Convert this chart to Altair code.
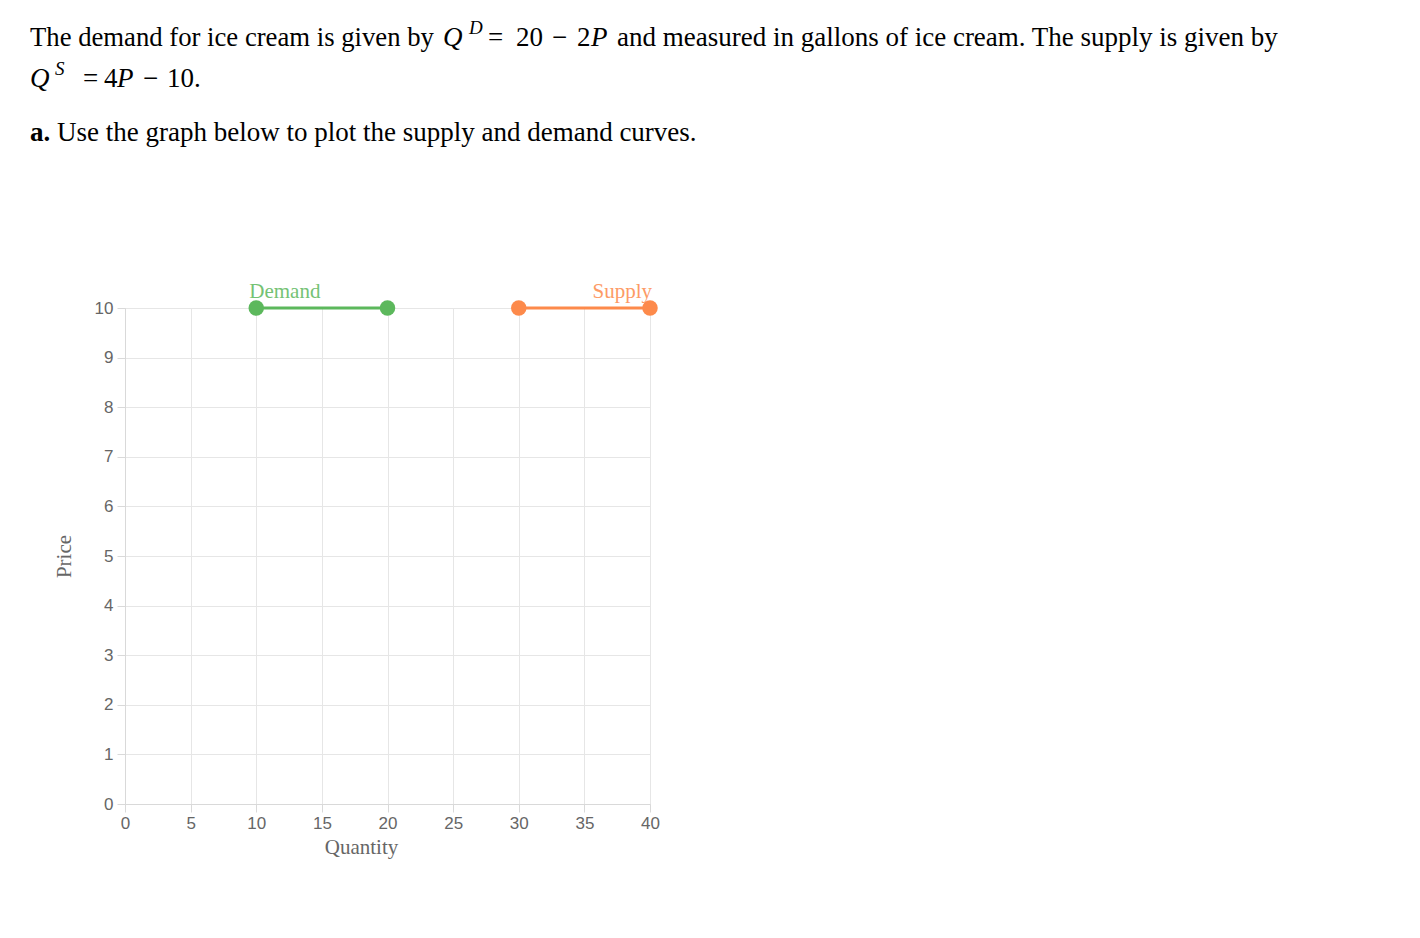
import altair as alt
import pandas as pd

# ---- data ----
series = ["Demand", "Demand", "Supply", "Supply"]
quantity = [10, 20, 30, 40]
price = [10, 10, 10, 10]
label_names = ["Demand", "Supply"]
label_quantity = [10, 40]
label_price = [10, 10]
x_ticks = [0, 5, 10, 15, 20, 25, 30, 35, 40]
y_ticks = [0, 1, 2, 3, 4, 5, 6, 7, 8, 9, 10]

df = pd.DataFrame({"series": series, "Quantity": quantity, "Price": price})
lab = pd.DataFrame({"series": label_names, "Quantity": label_quantity, "Price": label_price})

GREEN = "#5cb85c"
ORANGE = "#fd8a4b"
color_scale = alt.Scale(domain=["Demand", "Supply"], range=[GREEN, ORANGE])

SERIF = "Liberation Serif"
SANS = "Liberation Sans"

ox, oy = 125, 308  # plot origin in page pixels

x_enc = alt.X("Quantity:Q", scale=alt.Scale(domain=[0, 40], nice=False),
              axis=alt.Axis(values=x_ticks, title="Quantity", labelFont=SANS, labelFontSize=17,
                            labelColor="#666", labelFlush=False, titleFont=SERIF, titleFontSize=21,
                            titleFontWeight="normal", titleColor="#666", titlePadding=5,
                            titleX=361 - ox, titleAlign="center",
                            tickSize=8, tickColor="#d9d9d9", domainColor="#d9d9d9",
                            gridColor="#e6e6e6", labelPadding=3))
y_enc = alt.Y("Price:Q", scale=alt.Scale(domain=[0, 10], nice=False),
              axis=alt.Axis(values=y_ticks, title="Price", labelFont=SANS, labelFontSize=17,
                            labelColor="#666", labelFlush=False, titleFont=SERIF, titleFontSize=21,
                            titleFontWeight="normal", titleColor="#666", titlePadding=20,
                            tickSize=8, tickColor="#d9d9d9", domainColor="#d9d9d9",
                            gridColor="#e6e6e6", labelPadding=4))

base = alt.Chart(df)
lines = base.mark_line(strokeWidth=3).encode(
    x=x_enc, y=y_enc, detail="series:N",
    color=alt.Color("series:N", scale=color_scale, legend=None))
points = base.mark_circle(size=240, opacity=1).encode(
    x="Quantity:Q", y="Price:Q",
    color=alt.Color("series:N", scale=color_scale, legend=None))

lab_demand = alt.Chart(lab[lab.series == "Demand"]).mark_text(
    font=SERIF, fontSize=21, align="left", baseline="alphabetic", dx=-7, dy=-10, opacity=0.85
).encode(x="Quantity:Q", y="Price:Q", text="series:N",
         color=alt.Color("series:N", scale=color_scale, legend=None))
lab_supply = alt.Chart(lab[lab.series == "Supply"]).mark_text(
    font=SERIF, fontSize=21, align="right", baseline="alphabetic", dx=2, dy=-10, opacity=0.85
).encode(x="Quantity:Q", y="Price:Q", text="series:N",
         color=alt.Color("series:N", scale=color_scale, legend=None))

one = alt.Data(values=[{}])


def txt(s, x, y, size=27, style="normal", weight="normal"):
    return alt.Chart(one).mark_text(
        font=SERIF, fontSize=size, fontStyle=style, fontWeight=weight,
        align="left", baseline="alphabetic", color="#000"
    ).encode(x=alt.value(x), y=alt.value(y), text=alt.value(s))


L1, L2, L3 = 46 - oy, 87 - oy, 141 - oy
paragraph = [
    txt("The demand for ice cream is given by", 30 - ox, L1, size=26.7),
    txt("Q", 443 - ox, L1, style="italic"),
    txt("D", 469 - ox, L1 - 12, size=19, style="italic"),
    txt("=", 488 - ox, L1),
    txt("20", 516 - ox, L1),
    txt("\u2212", 552 - ox, L1),
    txt("2", 577 - ox, L1),
    txt("P", 591 - ox, L1, style="italic"),
    txt("and measured in gallons of ice cream. The supply is given by", 617 - ox, L1),
    txt("Q", 30 - ox, L2, style="italic"),
    txt("S", 55 - ox, L2 - 12, size=19, style="italic"),
    txt("=", 83 - ox, L2),
    txt("4", 104 - ox, L2),
    txt("P", 117 - ox, L2, style="italic"),
    txt("\u2212", 143 - ox, L2),
    txt("10.", 167 - ox, L2),
    txt("a.", 30 - ox, L3, weight="bold"),
    txt("Use the graph below to plot the supply and demand curves.", 57 - ox, L3),
]

chart = alt.layer(lines, points, lab_demand, lab_supply, *paragraph).properties(
    width=525, height=496,
    autosize=alt.AutoSizeParams(type="none"),
    padding={"left": 117, "top": 300, "right": 750, "bottom": 120},
).configure_view(stroke=None).configure(background="white")

chart.save("out.html", embed_options={"renderer": "svg", "actions": False})
